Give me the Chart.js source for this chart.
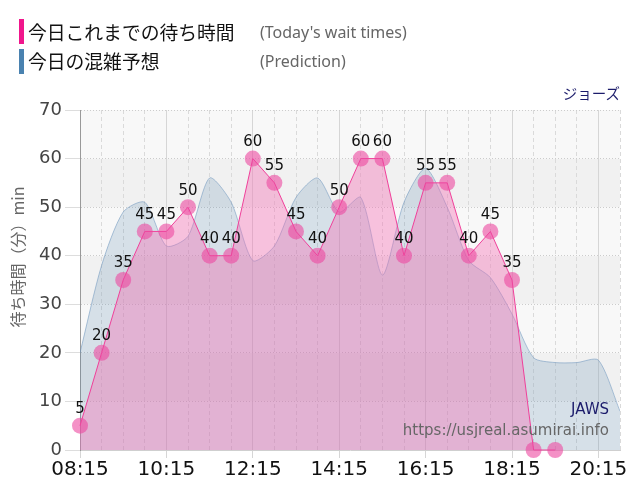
<!DOCTYPE html>
<html lang="ja">
<head>
<meta charset="utf-8">
<title>今日これまでの待ち時間 - ジョーズ</title>
<script src="https://cdn.jsdelivr.net/npm/chart.js@4/dist/chart.umd.min.js"></script>
<style>
  body { margin: 0; background: #fff; }
  #wrap { position: relative; width: 640px; height: 500px; }
  #chart { position: absolute; left: 0; top: 0; }
  .bar { position: absolute; left: 19px; width: 5px; height: 25px; }
  .jp { position: absolute; left: 28px; font-family: "Noto Sans CJK JP", sans-serif; font-size: 18.8px; color: #111; line-height: 26px; }
  .en { position: absolute; left: 260px; font-family: "Noto Sans", sans-serif; font-size: 16px; color: #666; line-height: 26px; }
  #ride { position: absolute; right: 20px; top: 82px; font-family: "Noto Sans CJK JP", sans-serif; font-size: 14.5px; color: #1c1c6b; line-height: 22px; }
</style>
</head>
<body>
<div id="wrap">
  <canvas id="chart" width="640" height="500"></canvas>
  <div class="bar" style="top:19px;background:#f0168c"></div>
  <div class="jp" style="top:19px">今日これまでの待ち時間</div>
  <div class="en" style="top:19px">(Today's wait times)</div>
  <div class="bar" style="top:49px;background:#4a82b0"></div>
  <div class="jp" style="top:48px">今日の混雑予想</div>
  <div class="en" style="top:48px">(Prediction)</div>
  <div id="ride">ジョーズ</div>
</div>
<script>
// 今日の実績（30分ごと）
const waitTimes = ['08:15','08:45','09:15','09:45','10:15','10:45','11:15','11:45','12:15','12:45',
  '13:15','13:45','14:15','14:45','15:15','15:45','16:15','16:45','17:15','17:45','18:15','18:45','19:15'];
const waitValues = [5, 20, 35, 45, 45, 50, 40, 40, 60, 55, 45, 40, 50, 60, 60, 40, 55, 55, 40, 45, 35, 0, 0];

// 混雑予想
const predTimes = ['08:15','08:45','09:15','09:45','10:15','10:45','11:15','11:45','12:15','12:45',
  '13:15','13:45','14:15','14:45','15:15','15:45','16:15','16:45','17:15','17:45','18:15','18:45',
  '19:15','19:45','20:15','20:45'];
const predValues = [20, 38, 49, 51, 42, 44, 56, 51, 39, 42, 52, 56, 49, 52, 36, 51, 58, 50, 39, 35.5, 28, 19,
  18, 18, 18.5, 8];

// 目盛り
const xTickLabels = ['08:15','10:15','12:15','14:15','16:15','18:15','20:15'];
const yMin = 0, yMax = 70, yStep = 10;

const toMin = (t) => { const [h, m] = t.split(':').map(Number); return h * 60 + m; };
const fmt = (v) => String(Math.floor(v / 60)).padStart(2, '0') + ':' + String(v % 60).padStart(2, '0');
const isMajor = (v) => xTickLabels.includes(fmt(v));

// 背景の縞・数値ラベル・透かし文字
const decor = {
  id: 'decor',
  beforeDraw(chart) {
    const { ctx, chartArea: a, scales: { y } } = chart;
    ctx.save();
    for (let v = yMin, k = 0; v < yMax; v += yStep, k++) {
      const top = y.getPixelForValue(v + yStep), bot = y.getPixelForValue(v);
      ctx.fillStyle = k % 2 === 0 ? '#f8f8f8' : '#f1f1f1';
      ctx.fillRect(a.left, top, a.right - a.left, bot - top);
    }
    ctx.restore();
  },
  afterDatasetsDraw(chart) {
    const { ctx, chartArea: a } = chart;
    ctx.save();
    // 実績の数値
    const meta = chart.getDatasetMeta(0);
    ctx.font = '15px "DejaVu Sans"';
    ctx.fillStyle = '#111';
    ctx.textAlign = 'center';
    ctx.textBaseline = 'bottom';
    meta.data.forEach((pt, i) => {
      if (waitValues[i] > 0) ctx.fillText(String(waitValues[i]), pt.x, pt.y - 9);
    });
    // 右下の文字
    ctx.textAlign = 'right';
    ctx.textBaseline = 'middle';
    ctx.font = '15px "DejaVu Sans"';
    ctx.fillStyle = '#1c1c6b';
    ctx.fillText('JAWS', a.right - 11, 410);
    ctx.fillStyle = '#666';
    ctx.fillText('https://usjreal.asumirai.info', a.right - 11, 431);
    // 縦軸タイトル
    ctx.translate(18, 257);
    ctx.rotate(-Math.PI / 2);
    ctx.textAlign = 'center';
    ctx.font = '16px "Noto Sans CJK JP"';
    ctx.fillStyle = '#666';
    ctx.fillText('待ち時間（分）min', 0, 0);
    ctx.restore();
  }
};

new Chart(document.getElementById('chart'), {
  type: 'line',
  data: {
    datasets: [
      {
        label: '今日これまでの待ち時間',
        data: waitTimes.map((t, i) => ({ x: toMin(t), y: waitValues[i] })),
        borderColor: '#f0409a',
        borderWidth: 1,
        backgroundColor: 'rgba(245,110,180,0.4)',
        fill: 'origin',
        tension: 0,
        pointRadius: 8,
        pointBorderWidth: 0,
        pointBackgroundColor: 'rgba(236,72,160,0.6)',
        clip: false
      },
      {
        label: '今日の混雑予想',
        data: predTimes.map((t, i) => ({ x: toMin(t), y: predValues[i] })),
        borderColor: 'rgba(110,150,190,0.55)',
        borderWidth: 1,
        backgroundColor: 'rgba(80,130,170,0.2)',
        fill: 'origin',
        tension: 0.25,
        pointRadius: 0
      }
    ]
  },
  options: {
    responsive: false,
    animation: false,
    layout: { padding: { top: 110, right: 20, left: 0, bottom: 0 } },
    plugins: { legend: { display: false }, tooltip: { enabled: false } },
    scales: {
      x: {
        type: 'linear',
        min: toMin(predTimes[0]),
        max: toMin(predTimes[predTimes.length - 1]),
        afterBuildTicks: (scale) => { scale.ticks = predTimes.map(t => ({ value: toMin(t) })); },
        afterFit: (scale) => { scale.height = 50; },
        ticks: {
          autoSkip: false,
          maxRotation: 0,
          padding: 0,
          color: '#111',
          font: { family: 'DejaVu Sans', size: 20 },
          callback: (v) => isMajor(v) ? fmt(v) : ''
        },
        grid: {
          color: (c) => c.tick && isMajor(c.tick.value) ? '#d6d6d6' : '#dadada',
          tickColor: (c) => c.tick && isMajor(c.tick.value) ? '#d6d6d6' : 'rgba(0,0,0,0)',
          tickLength: 8
        },
        border: {
          color: '#cfcfcf',
          dash: (c) => c.tick && isMajor(c.tick.value) ? [] : [4, 3]
        }
      },
      y: {
        min: yMin,
        max: yMax,
        afterFit: (scale) => { scale.width = 80; },
        ticks: {
          stepSize: yStep,
          padding: 3,
          color: '#444',
          font: { family: 'DejaVu Sans', size: 18 }
        },
        grid: {
          color: '#cccccc',
          tickColor: '#dddddd',
          tickLength: 15,
          tickBorderDash: []
        },
        border: { color: '#999', dash: [1, 2] }
      }
    }
  },
  plugins: [decor]
});
</script>
</body>
</html>
